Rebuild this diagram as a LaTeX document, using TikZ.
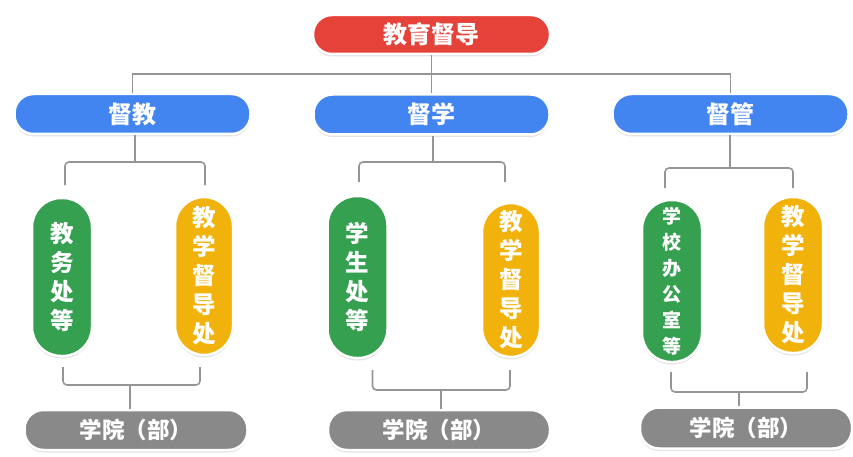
\documentclass[tikz,border=0pt]{standalone}
\usepackage{fontspec}
\newfontfamily\cjk{Noto Sans CJK SC}
\usetikzlibrary{positioning,calc,shadows}

\definecolor{topred}{HTML}{E5433A}
\definecolor{midblue}{HTML}{4285F0}
\definecolor{unitgreen}{HTML}{34A050}
\definecolor{unityellow}{HTML}{F2B20C}
\definecolor{basegray}{HTML}{898989}
\definecolor{linegray}{HTML}{959595}

\tikzset{
  pill/.style={rectangle, rounded corners=19pt, draw=white, line width=2.5pt,
    text=white, inner sep=0pt, minimum height=40pt, minimum width=236pt,
    font=\cjk\bfseries\fontsize{24}{28}\selectfont,
    drop shadow={opacity=0.22, shadow xshift=0pt, shadow yshift=-2.5pt}},
  vpill/.style={pill, rounded corners=29pt, minimum width=60pt, minimum height=158pt,
    align=center, font=\cjk\bfseries\fontsize{23.5}{29}\selectfont},
  college/.style={pill, fill=basegray, font=\cjk\bfseries\fontsize{22.5}{26}\selectfont},
  link/.style={draw=linegray, line width=1.6pt},
}

\begin{document}
\begin{tikzpicture}[x=1pt,y=-1pt]
  \useasboundingbox (0,0) rectangle (853,457);

  % top and the three branches
  \node[pill, fill=topred, minimum height=39pt, minimum width=237pt] (top) at (431.5,34.5) {教育督导};
  \node[pill, fill=midblue] (jiao) at (132.5,114) {督教};
  \node[pill, fill=midblue] (xue) at (431.5,114.5) {督学};
  \node[pill, fill=midblue] (guan) at (730.5,114) {督管};

  % offices
  \node[vpill, fill=unitgreen] (g1) at (62,277) {教\\务\\处\\等};
  \node[vpill, fill=unityellow, minimum width=58pt] (y1) at (204,276) {教\\学\\督\\导\\处};
  \node[vpill, fill=unitgreen, minimum height=162pt] (g2) at (357.5,277) {学\\生\\处\\等};
  \node[vpill, fill=unityellow, minimum width=58pt, minimum height=154pt] (y2) at (511,280) {教\\学\\督\\导\\处};
  \node[vpill, fill=unitgreen, minimum height=162pt,
        font=\cjk\bfseries\fontsize{19}{26}\selectfont] (g3) at (672,281) {学\\校\\办\\公\\室\\等};
  \node[vpill, fill=unityellow, minimum height=156pt] (y3) at (793,275) {教\\学\\督\\导\\处};

  % colleges
  \node[college, minimum width=223pt] (gr1) at (136,430) {学院（部）};
  \node[college, minimum width=222pt] (gr2) at (439,430) {学院（部）};
  \node[college, minimum width=212pt, minimum height=41pt] (gr3) at (746,428) {学院（部）};

  % top level lines
  \coordinate (h) at (431.5,74);
  \draw[link] (top.south) -- (xue.north);
  \draw[link] (jiao.north) |- (h) -| (guan.north);

  % braces below the branches
  \coordinate (j1) at (135,162);
  \coordinate (j2) at (433,162);
  \coordinate (j3) at (730,168);
  \draw[link, rounded corners=4pt] ([xshift=3pt]g1.north |- 0,185) |- (j1) -| ([xshift=1pt]y1.north |- 0,185);
  \draw[link, rounded corners=4pt] ([xshift=1.5pt]g2.north |- 0,182) |- (j2) -| ([xshift=-6pt]y2.north |- 0,182);
  \draw[link, rounded corners=4pt] ([xshift=-7pt]g3.north |- 0,188) |- (j3) -| (y3.north |- 0,188);
  \draw[link] (j1) -- (j1 |- jiao.south);
  \draw[link] (j2) -- (j2 |- xue.south);
  \draw[link] (j3) -- (j3 |- guan.south);

  % braces above the colleges
  \coordinate (k1) at (130,385);
  \coordinate (k2) at (441,390);
  \coordinate (k3) at (739,392);
  \draw[link, rounded corners=4pt] ([xshift=1pt]g1.south |- 0,367) |- (k1) -| ([xshift=-4pt]y1.south |- 0,367);
  \draw[link, rounded corners=4pt] ([xshift=15pt]g2.south |- 0,370) |- (k2) -| ([xshift=-1pt]y2.south |- 0,370);
  \draw[link, rounded corners=4pt] ([xshift=-1pt]g3.south |- 0,372) |- (k3) -| ([xshift=14pt]y3.south |- 0,372);
  \draw[link] (k1) -- (k1 |- gr1.north);
  \draw[link] (k2) -- (k2 |- gr2.north);
  \draw[link] (k3) -- (k3 |- gr3.north);
\end{tikzpicture}
\end{document}
